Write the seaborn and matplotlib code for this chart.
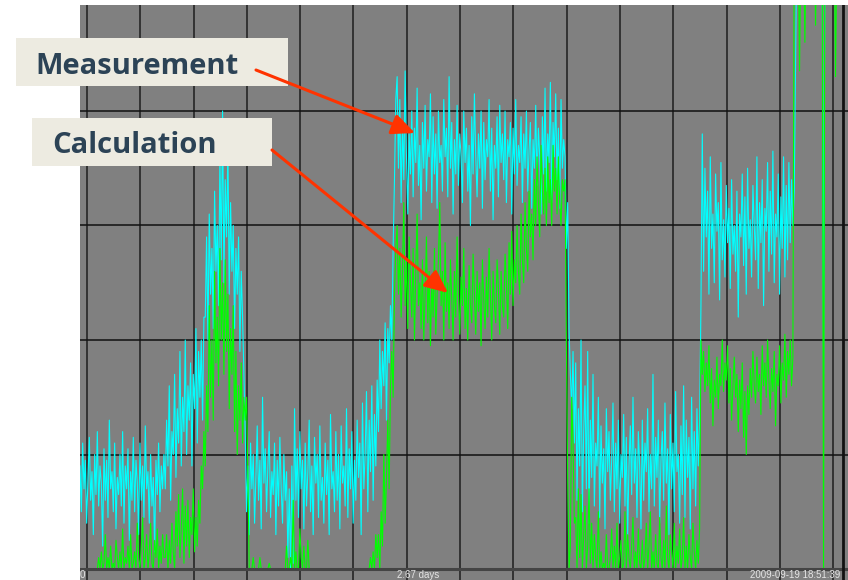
import numpy as np
import pandas as pd
import seaborn as sns
import matplotlib.pyplot as plt
from matplotlib.patches import Rectangle, FancyArrowPatch

# sample interval of the recorded trend (hours)
STEP_H = 0.25

# measured signal (cyan), one value per sample
measurement = (
    # 0 - 16 h
    [0.9, 0.5, 1.1, 0.7, 0.95, 0.4, 0.8, 1.15, 0.6, 0.85,
     0.3, 1.0, 0.65, 1.2, 0.55, 0.9, 0.75, 0.2, 1.05, 0.6,
     0.95, 0.45, 1.3, 0.7, 0.85, 0.5, 1.1, 0.35, 0.8, 0.65,
     1.0, 0.55, 1.2, 0.4, 0.9, 0.7, 1.05, 0.25, 0.85, 0.6,
     1.15, 0.5, 0.95, 0.75, 0.3, 1.1, 0.6, 0.9, 0.45, 1.25,
     0.7, 0.85, 0.4, 1.0, 0.55, 0.8, 0.15, 0.95, 0.65, 1.1,
     0.5, 0.9, 0.7, 1.0]
    # 16 - 23.5 h
    + [0.7, 1.3, 0.9, 1.6, 0.6, 1.2, 1.0, 1.7, 0.8, 1.4,
       1.1, 1.9, 0.9, 1.5, 1.2, 2.0, 1.0, 1.6, 1.3, 1.8,
       0.9, 1.7, 1.4, 2.1, 1.1, 1.9, 1.5, 2.0, 1.3, 2.2]
    # 23.5 - 31 h
    + [2.2, 2.9, 2.0, 3.1, 2.4, 2.8, 2.1, 3.3, 2.6, 3.0,
       2.3, 3.6, 2.7, 4.0, 2.5, 3.4, 2.9, 3.7, 2.4, 3.2,
       2.6, 3.0, 2.1, 2.8, 2.4, 2.9, 1.9, 2.6, 2.2, 1.7]
    # 31 - 56 h
    + [1.2, 0.5, 0.9, 0.3, 1.1, 0.7, 1.0, 0.4, 0.8, 1.25,
       0.6, 0.95, 0.35, 1.5, 0.75, 1.05, 0.5, 0.9, 1.2, 0.45,
       0.85, 0.65, 1.1, 0.3, 0.95, 0.55, 1.15, 0.7, 0.4, 1.0,
       0.6, 0.85, 0.1, 0.7, 0.0, 0.9, 0.05, 1.4, 0.6, 1.05,
       0.45, 1.2, 0.7, 0.95, 0.35, 1.1, 0.55, 0.85, 1.3, 0.5,
       0.9, 0.3, 1.15, 0.75, 1.0, 0.45, 1.25, 0.6, 0.8, 0.4,
       1.1, 0.65, 0.95, 0.3, 1.35, 0.7, 0.85, 0.5, 1.2, 0.6,
       1.0, 0.35, 1.25, 0.75, 0.9, 0.55, 1.4, 0.45, 1.05, 0.7,
       1.2, 0.4, 0.95, 0.6, 1.3, 0.8, 1.1, 0.3, 1.45, 0.7,
       1.0, 1.55, 0.5, 1.3, 0.85, 1.6, 0.6, 1.35, 0.9, 1.65]
    # 56 - 59.5 h
    + [1.2, 2.0, 1.4, 1.9, 1.6, 2.15, 1.3, 2.1, 1.8, 2.3,
       2.0, 2.8, 3.4, 4.1]
    # 59.5 - 91 h
    + [4.3, 3.5, 4.1, 3.2, 3.9, 3.4, 4.35, 3.6, 3.1, 3.8,
       3.45, 4.0, 3.25, 3.85, 3.55, 4.2, 3.35, 3.7, 3.05, 3.9,
       3.5, 4.05, 3.3, 3.75, 3.6, 4.15, 3.2, 3.95, 3.45, 3.8,
       3.15, 4.0, 3.55, 3.7, 3.3, 4.1, 3.6, 3.85, 3.25, 4.3,
       3.5, 3.9, 3.1, 3.75, 3.45, 4.05, 3.35, 3.8, 3.6, 3.2,
       4.0, 3.55, 3.85, 3.3, 3.7, 3.0, 3.95, 3.45, 4.15, 3.6,
       3.25, 3.8, 3.5, 4.0, 3.15, 3.9, 3.4, 3.75, 3.6, 4.1,
       3.3, 3.85, 3.05, 3.7, 3.5, 3.95, 3.25, 4.05, 3.55, 3.8,
       3.4, 4.0, 3.2, 3.75, 3.6, 3.9, 3.1, 3.85, 3.45, 4.1,
       3.35, 3.7, 3.55, 3.95, 3.2, 3.8, 3.5, 4.0, 3.3, 3.65,
       3.9, 3.15, 3.75, 3.5, 4.05, 3.35, 3.85, 3.6, 3.1, 3.95,
       3.45, 4.2, 3.3, 3.8, 3.55, 4.25, 3.2, 3.9, 3.6, 4.15,
       3.4, 3.85, 3.15, 4.1, 3.5, 3.75]
    # 91 - 93 h
    + [3.6, 2.8, 3.2, 2.1, 1.7, 1.4, 1.9, 1.1]
    # 93 - 116.5 h
    + [1.8, 0.6, 1.4, 0.9, 2.0, 0.5, 1.2, 1.6, 0.7, 1.9,
       0.4, 1.3, 0.8, 1.7, 0.55, 1.1, 0.9, 1.5, 0.45, 1.25,
       0.75, 1.05, 0.35, 1.4, 0.85, 1.2, 0.6, 0.95, 1.45, 0.5,
       1.1, 0.7, 1.3, 0.4, 1.0, 0.8, 1.35, 0.55, 1.15, 0.3,
       0.9, 1.25, 0.65, 1.5, 0.75, 1.05, 0.45, 1.2, 0.9, 0.35,
       1.3, 0.6, 1.1, 0.85, 1.4, 0.5, 1.0, 0.7, 1.7, 0.55,
       1.15, 0.8, 1.3, 0.4, 0.95, 1.2, 0.6, 1.45, 0.75, 1.05,
       0.3, 1.35, 0.7, 1.1, 0.5, 1.55, 0.85, 1.0, 0.4, 1.25,
       0.65, 1.6, 0.45, 1.3, 0.8, 1.15, 0.35, 1.5, 0.7, 1.2,
       0.55, 1.4, 0.9, 1.3]
    # 116.5 - 134 h
    + [2.3, 3.8, 2.6, 3.5, 2.9, 3.3, 2.4, 3.6, 2.8, 3.1,
       2.5, 3.45, 2.95, 3.2, 2.35, 3.55, 2.7, 3.05, 2.55, 3.35,
       2.85, 3.15, 2.45, 3.4, 2.75, 3.0, 2.6, 3.3, 2.2, 3.1,
       2.9, 3.45, 2.65, 3.25, 2.4, 3.5, 2.8, 3.05, 2.55, 3.35,
       3.0, 2.7, 3.6, 2.45, 3.2, 2.85, 3.4, 2.3, 3.15, 2.95,
       3.55, 2.6, 3.3, 2.75, 3.65, 2.5, 3.1, 2.9, 3.45, 2.4,
       3.25, 2.8, 3.6, 2.55, 3.35, 2.7, 3.55, 2.85, 3.4, 3.0]
    # 134 h - end (off scale)
    + [3.3, 4.4] + [5.5] * 20 + [1.7] + [5.5] * 15
)

# calculated signal (green)
calculation = (
    [0, 0, 0, 0, 0, 0, 0, 0, 0, 0,
     0, 0, 0, 0, 0.1, 0, 0.15, 0, 0.05, 0.3,
     0, 0.1, 0, 0.2, 0, 0.05, 0, 0.25, 0.1, 0,
     0.15, 0, 0.35, 0, 0.1, 0.05, 0.2, 0, 0.3, 0,
     0.05, 0.15, 0, 0.4, 0.1, 0, 0.2, 0.45, 0, 0.1,
     0.3, 0, 0.15, 0.4, 0.05, 0, 0.25, 0.1, 0.35, 0,
     0.2, 0.05, 0.3, 0.1]
    + [0.1, 0.3, 0, 0.25, 0.05, 0.4, 0.15, 0, 0.5, 0.2,
       0.65, 0.1, 0.35, 0.7, 0.05, 0.55, 0.2, 0.6, 0.1, 0.45,
       0.3, 0.7, 0.15, 0.45, 0.2, 0.6, 0.4, 0.9, 0.7, 1.2]
    + [0.9, 1.6, 1.2, 2.3, 1.5, 2.0, 1.3, 2.6, 1.8, 2.2,
       1.6, 2.8, 2.0, 2.5, 1.7, 2.7, 1.9, 2.4, 1.4, 2.1,
       1.7, 2.3, 1.2, 1.9, 1.0, 1.6, 1.3, 1.8, 1.1, 1.5]
    + [1.3, 1.5, 0.8, 0, 0, 0, 0.1, 0, 0, 0,
       0, 0.1, 0, 0, 0, 0, 0, 0, 0.05, 0,
       0, 0, 0, 0, 0, 0, 0, 0, 0, 0,
       0, 0.2, 0, 0, 0.1, 0, 0.6, 0, 0.15, 0,
       0, 0.35, 0.1, 0, 0.2, 0, 0, 0.25, 0, 0]
    + [0] * 40
    + [0, 0, 0, 0, 0.1, 0, 0.15, 0, 0.3, 0.1]
    + [0.3, 0, 0.5, 0.2, 1.0, 0.4, 0.8, 1.3, 0.7, 1.6,
       1.9, 1.5, 2.4, 2.8]
    + [3.0, 2.4, 2.8, 2.2, 2.6, 3.2, 2.3, 2.7, 2.1, 2.9,
       2.5, 2.2, 2.8, 2.0, 2.6, 3.1, 2.3, 2.5, 2.1, 2.7,
       2.0, 2.4, 2.9, 2.15, 2.6, 1.95, 2.5, 2.2, 2.8, 2.05,
       2.4, 2.7, 3.2, 2.3, 2.6, 2.0, 2.85, 2.25, 2.5, 2.1,
       2.7, 2.35, 2.0, 2.6, 2.2, 2.9, 2.4, 2.05, 2.55, 2.3,
       2.8, 2.1, 2.45, 2.0, 2.65, 2.3, 2.15, 2.75, 2.4, 2.05,
       2.6, 2.25, 2.5, 1.95, 2.7, 2.35, 2.1, 2.55, 2.2, 2.8,
       2.4, 2.0, 2.6, 2.3, 2.15, 2.7, 2.45, 2.05, 2.6, 2.3,
       2.2, 2.75, 2.5, 2.1, 2.85, 2.4, 2.95, 2.3, 2.7, 2.5,
       3.0, 2.6, 2.4, 3.1, 2.7, 2.5, 3.2, 2.8, 2.6, 3.3,
       2.9, 3.1, 2.7, 3.4, 3.0, 3.6, 3.2, 2.9, 3.7, 3.3,
       3.1, 3.5, 3.0, 3.6, 3.2, 3.4, 3.0, 3.7, 3.3, 3.5,
       3.1, 3.6, 3.2, 3.0, 3.4, 3.3]
    + [3.4, 2.0, 0.8, 0.0, 0.2, 1.5, 1.1, 0.4]
    + [0.45, 0, 0.7, 0.1, 0.65, 0, 0.3, 0.55, 0, 0.2,
       0.7, 0.05, 0.4, 0, 0.3, 0.1, 0, 0.5, 0, 0.15,
       0, 0.05, 0, 0.3, 0, 0, 0.1, 0.35, 0, 0.2,
       0, 0.4, 0, 0.1, 0.25, 0, 0.05, 0.5, 0, 0.3,
       0.1, 0, 0.2, 0.45, 0, 0.15, 0, 0.35, 0.05, 0,
       0.25, 0, 0.1, 0.4, 0, 0.2, 0.5, 0, 0.15, 0,
       0.3, 0.05, 0, 0.45, 0.1, 0, 0.25, 0, 0.55, 0.1,
       0, 0.3, 0.15, 0, 0.4, 0, 0.2, 0.05, 0.35, 0,
       0.1, 0.45, 0, 0.2, 0, 0.3, 0.1, 0, 0.4, 0.15,
       0, 0.25, 0.05, 0.35]
    + [2.0, 1.7, 1.9, 1.55, 1.8, 1.6, 1.95, 1.45, 1.75, 1.25,
       1.65, 1.5, 1.85, 1.4, 1.7, 1.6, 2.0, 1.55, 1.8, 1.65,
       1.95, 1.45, 1.75, 1.3, 1.6, 1.85, 1.5, 1.7, 1.2, 1.65,
       1.4, 1.8, 1.15, 1.55, 1.0, 1.6, 1.35, 1.75, 1.5, 1.9,
       1.6, 1.45, 1.85, 1.55, 1.7, 1.35, 1.95, 1.6, 1.8, 1.5,
       2.0, 1.65, 1.4, 1.75, 1.55, 1.9, 1.25, 1.7, 1.6, 1.95,
       1.45, 1.8, 1.65, 2.05, 1.5, 1.9, 1.7, 2.0, 1.6, 1.85]
    + [5.5, 5.5, 5.5, 5.5, 4.35, 5.5, 5.5, 5.5, 4.6, 5.5,
       5.5, 5.5, 5.5, 5.5, 5.5, 5.5, 4.75, 5.5, 5.5, 5.5,
       5.5, 5.5, 0.0, 5.5, 5.5, 5.5, 5.5, 5.5, 5.5, 5.5,
       5.5, 4.3, 5.5, 5.5, 5.5, 5.5, 5.5, 5.5]
)

assert len(measurement) == len(calculation) == 574, (len(measurement), len(calculation))

tick_labels = ["0", "2.67 days", "2009-09-19 18:51:39"]
tick_hours = [0, 63.4, 142.6]

df = pd.DataFrame({
    "hours": np.arange(len(measurement)) * STEP_H,
    "measurement": measurement,
    "calculation": calculation,
})

W, H = 848, 580
fig = plt.figure(figsize=(W / 100, H / 100), dpi=100)
ax = fig.add_axes([80 / W, 0, 768 / W, 575 / H])
ax.set_facecolor("#808080")

# pixel scale of the original trend window
px_per_h = 5.33
px_per_unit = 114.5
ax.set_xlim(0, 768 / px_per_h)
ax.set_ylim(-11 / px_per_unit, 564 / px_per_unit)

# grid
for k in range(15):
    ax.axvline(1.31 + 10 * k, color="#1e1e1e", lw=1.1, zorder=0.5)
for v in [1, 2, 3, 4]:
    ax.axhline(v, color="#111111", lw=1.1, zorder=0.5)

sns.lineplot(data=df, x="hours", y="measurement", color="#00FFFF", lw=0.8,
             estimator=None, ax=ax, zorder=2)
sns.lineplot(data=df, x="hours", y="calculation", color="#00FF00", lw=0.8,
             estimator=None, ax=ax, zorder=3)

ax.axhline(0, color="#444444", lw=2.2, zorder=4)
ax.axvline(763 / px_per_h, color="#111111", lw=2.0, zorder=4)

for s in ax.spines.values():
    s.set_visible(False)
ax.set_xticks([])
ax.set_yticks([])
ax.set_xlabel("")
ax.set_ylabel("")

aligns = ["left", "center", "right"]
for h, lab, ha in zip(tick_hours, tick_labels, aligns):
    ax.text(h, -6 / px_per_unit, lab, ha=ha, va="center", fontsize=7,
            color="#e4e4e4", family="Liberation Sans", zorder=5)

# annotation boxes
box_color = "#EDEBE1"
text_color = "#2C4356"
fig.patches.append(Rectangle((16 / W, 1 - 86 / H), 272 / W, 48 / H,
                             transform=fig.transFigure, facecolor=box_color,
                             edgecolor="none", zorder=5))
fig.patches.append(Rectangle((32 / W, 1 - 166 / H), 240 / W, 48 / H,
                             transform=fig.transFigure, facecolor=box_color,
                             edgecolor="none", zorder=5))
fig.text(35 / W, 1 - 74 / H, "Measurement", fontsize=21, fontweight="bold",
         color=text_color, family="Open Sans", va="baseline", zorder=6)
fig.text(52 / W, 1 - 153 / H, "Calculation", fontsize=21, fontweight="bold",
         color=text_color, family="Open Sans", va="baseline", zorder=6)

# red arrows
for (x0, y0), (x1, y1) in [((256, 70), (415, 133)), ((272, 150), (448, 293))]:
    arr = FancyArrowPatch((x0 / W, 1 - y0 / H), (x1 / W, 1 - y1 / H),
                          transform=fig.transFigure,
                          arrowstyle="-|>,head_length=1.0,head_width=0.45",
                          mutation_scale=14, lw=2.2, color="#FF3300",
                          shrinkA=0, shrinkB=0, zorder=7)
    fig.add_artist(arr)

plt.savefig("out.png", dpi=100)
